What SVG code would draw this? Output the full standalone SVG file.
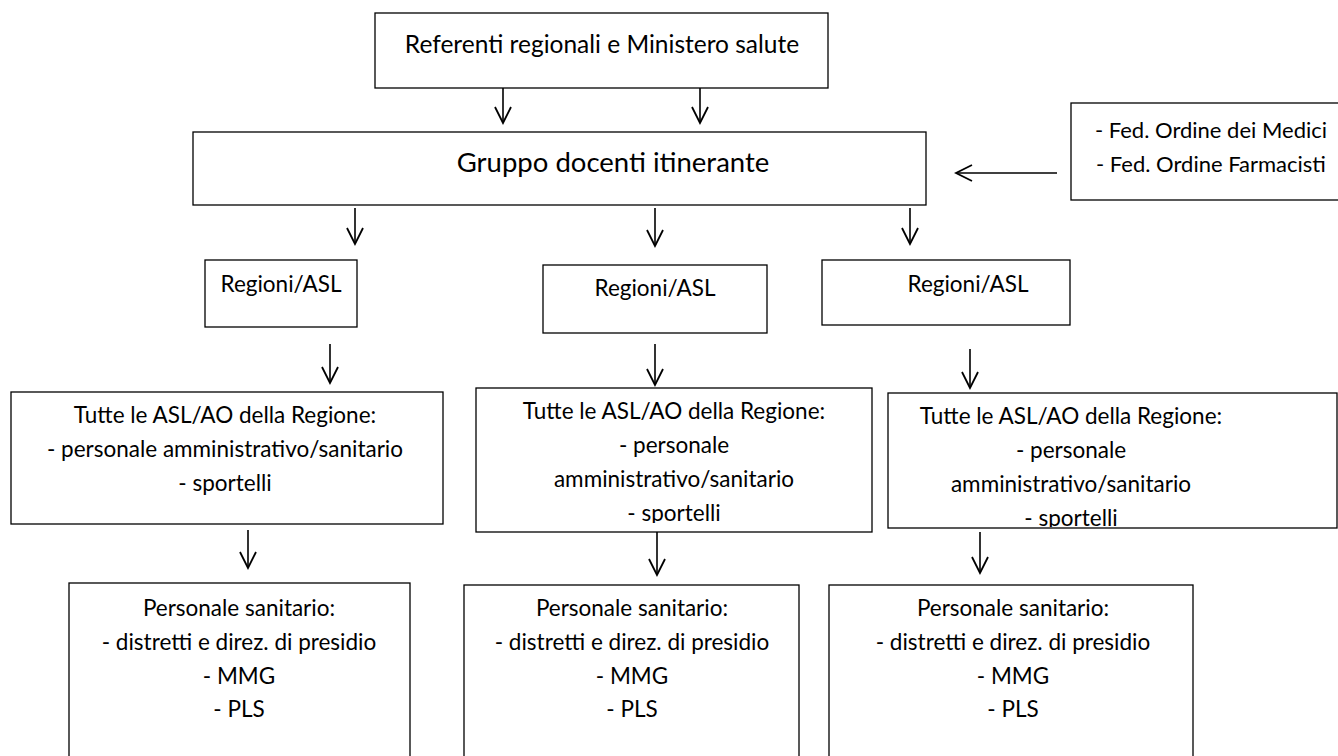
<svg xmlns="http://www.w3.org/2000/svg" width="1338" height="756" viewBox="0 0 1338 756">
<style>
.box{fill:#fff;stroke:#000;stroke-width:1.3}
.t{font-family:Lato,"Liberation Sans",sans-serif;fill:#000;text-anchor:middle}
.top{font-size:24.5px}
.grp{font-size:27.5px}
.reg{font-size:22.5px}
.sm{font-size:22.5px}
.fed{font-size:22px}
.c{stroke:#000;stroke-width:1.6;fill:none}
</style>
<defs>
<marker id="ah" viewBox="0 0 20 20" refX="18" refY="10" markerWidth="20" markerHeight="20" markerUnits="userSpaceOnUse" orient="auto">
<path d="M2,2 L18,10 L2,18" fill="none" stroke="#000" stroke-width="1.8"/>
</marker>
<clipPath id="cp2"><rect x="476" y="388" width="396" height="135"/></clipPath>
<clipPath id="cp3"><rect x="888" y="393" width="449" height="134"/></clipPath>
</defs>
<g id="n-top"><rect class="box" x="375" y="13" width="453" height="75"/><text class="t top" x="602" y="53">Referenti regionali e Ministero salute</text></g>
<g id="n-gruppo"><rect class="box" x="193" y="132" width="733" height="73"/><text class="t grp" x="613" y="172">Gruppo docenti itinerante</text></g>
<g id="n-fed"><rect class="box" x="1071" y="103" width="275" height="97"/><text class="t fed" x="1211" y="138">- Fed. Ordine dei Medici</text><text class="t fed" x="1211" y="172">- Fed. Ordine Farmacisti</text></g>
<g id="n-reg1"><rect class="box" x="205" y="260" width="152" height="67"/><text class="t reg" x="281" y="292">Regioni/ASL</text></g>
<g id="n-reg2"><rect class="box" x="543" y="265" width="224" height="68"/><text class="t reg" x="655" y="296">Regioni/ASL</text></g>
<g id="n-reg3"><rect class="box" x="822" y="260" width="248" height="65"/><text class="t reg" x="968" y="292">Regioni/ASL</text></g>
<g id="n-asl1"><rect class="box" x="11" y="392" width="432" height="132"/>
<text class="t sm" x="225" y="423">Tutte le ASL/AO della Regione:</text>
<text class="t sm" x="225" y="457">- personale amministrativo/sanitario</text>
<text class="t sm" x="225" y="491">- sportelli</text></g>
<g id="n-asl2"><rect class="box" x="476" y="388" width="396" height="144"/>
<g clip-path="url(#cp2)">
<text class="t sm" x="674" y="419">Tutte le ASL/AO della Regione:</text>
<text class="t sm" x="674" y="453">- personale</text>
<text class="t sm" x="674" y="487">amministrativo/sanitario</text>
<text class="t sm" x="674" y="521">- sportelli</text></g></g>
<g id="n-asl3"><rect class="box" x="888" y="393" width="449" height="135"/>
<g clip-path="url(#cp3)">
<text class="t sm" x="1071" y="424">Tutte le ASL/AO della Regione:</text>
<text class="t sm" x="1071" y="458">- personale</text>
<text class="t sm" x="1071" y="492">amministrativo/sanitario</text>
<text class="t sm" x="1071" y="526">- sportelli</text></g></g>
<g id="n-ps1"><rect class="box" x="69" y="583" width="341" height="190"/>
<text class="t sm" x="239" y="616">Personale sanitario:</text>
<text class="t sm" x="239" y="650">- distretti e direz. di presidio</text>
<text class="t sm" x="239" y="684">- MMG</text>
<text class="t sm" x="239" y="717">- PLS</text></g>
<g id="n-ps2"><rect class="box" x="464" y="585" width="335" height="190"/>
<text class="t sm" x="632" y="616">Personale sanitario:</text>
<text class="t sm" x="632" y="650">- distretti e direz. di presidio</text>
<text class="t sm" x="632" y="684">- MMG</text>
<text class="t sm" x="632" y="717">- PLS</text></g>
<g id="n-ps3"><rect class="box" x="829" y="585" width="364" height="190"/>
<text class="t sm" x="1013" y="616">Personale sanitario:</text>
<text class="t sm" x="1013" y="650">- distretti e direz. di presidio</text>
<text class="t sm" x="1013" y="684">- MMG</text>
<text class="t sm" x="1013" y="717">- PLS</text></g>
<g id="connectors">
<line class="c" x1="503" y1="88" x2="503" y2="123" marker-end="url(#ah)"/>
<line class="c" x1="700" y1="88" x2="700" y2="123" marker-end="url(#ah)"/>
<line class="c" x1="1057" y1="173" x2="956" y2="173" marker-end="url(#ah)"/>
<line class="c" x1="355" y1="208" x2="355" y2="244" marker-end="url(#ah)"/>
<line class="c" x1="655" y1="208" x2="655" y2="246" marker-end="url(#ah)"/>
<line class="c" x1="910" y1="208" x2="910" y2="244" marker-end="url(#ah)"/>
<line class="c" x1="330" y1="344" x2="330" y2="383" marker-end="url(#ah)"/>
<line class="c" x1="655" y1="344" x2="655" y2="385" marker-end="url(#ah)"/>
<line class="c" x1="970" y1="349" x2="970" y2="388" marker-end="url(#ah)"/>
<line class="c" x1="248" y1="530" x2="248" y2="568" marker-end="url(#ah)"/>
<line class="c" x1="657" y1="532" x2="657" y2="575" marker-end="url(#ah)"/>
<line class="c" x1="980" y1="532" x2="980" y2="573" marker-end="url(#ah)"/>
</g>
</svg>
